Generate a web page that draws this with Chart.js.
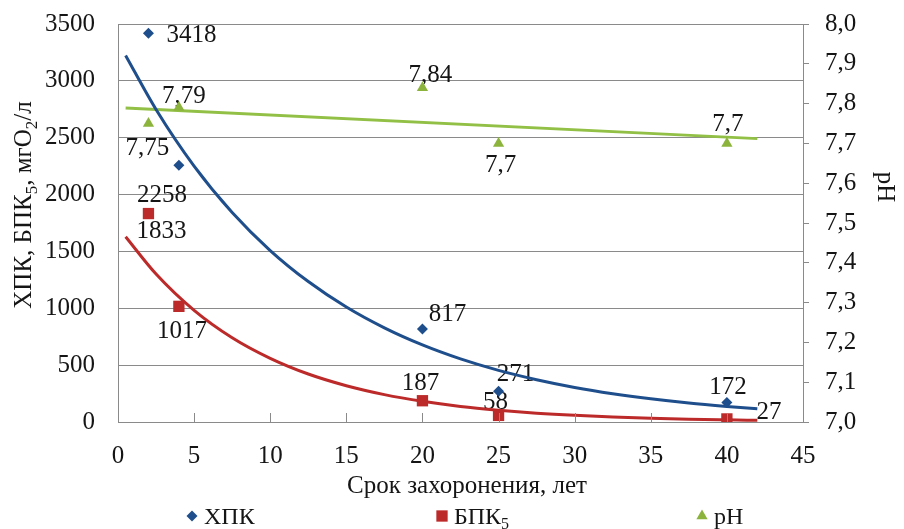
<!DOCTYPE html>
<html>
<head>
<meta charset="utf-8">
<script src="https://cdn.jsdelivr.net/npm/chart.js@4.4.1/dist/chart.umd.min.js"></script>
<style>
  html, body { margin: 0; padding: 0; background: #ffffff; }
  #wrap { width: 904px; height: 529px; }
</style>
</head>
<body>
<div id="wrap"><canvas id="c" width="904" height="529"></canvas></div>
<script>
// Measured values by burial age (years)
const years = [2, 4, 20, 25, 40];
const codValues = [3418, 2258, 817, 271, 172];   // ХПК, мгО2/л
const bodValues = [1833, 1017, 187, 58, 27];     // БПК5, мгО2/л
const phValues = [7.75, 7.79, 7.84, 7.7, 7.7];   // pH

// Trend curves (exponential for ХПК and БПК5, linear for pH)
const trendYears = [0.5, 2.5, 5, 7.5, 10, 12.5, 15, 17.5, 20, 22.5, 25, 27.5, 30, 32.5, 35, 37.5, 40, 42];
const codTrend = [3223, 2748, 2250, 1842, 1508, 1235, 1011, 828, 678, 555, 454, 372, 304, 249, 204, 167, 137, 116];
const bodTrend = [1629, 1301, 982, 741, 560, 422, 319, 241, 182, 137, 104, 78, 59, 45, 34, 25, 19, 15];
const phTrendYears = [0.5, 42];
const phTrend = [7.789, 7.712];

// Axis ranges
const xRange = { min: 0, max: 45, step: 5 };
const leftRange = { min: 0, max: 3500, step: 500 };
const rightRange = { min: 7.0, max: 8.0, step: 0.1 };

// Label placement relative to each marker (px)
const codLabelShift = [[43, 0], [-17, 28], [25, -17], [17, -19], [1, -17]];
const bodLabelShift = [[13, 16], [3, 23], [-2, -19], [-3, -15], [42, -8]];
const phLabelShift = [[-1, 23], [5, -13], [8, -14], [2, 20], [1, -21]];

const BLUE = '#1f4e8c';
const RED = '#bc2a2a';
const GREEN = '#8cb43c';
const GRID = '#8a8a8a';
const INK = '#151515';
const FONT = "'Liberation Serif', 'Times New Roman', serif";
const FS = 25;
const LEGEND_FS = 24;

// Plot box inside the canvas
const PLOT = { left: 118, top: 24, right: 803, bottom: 422 };

const pts = (xs, ys) => xs.map((x, i) => ({ x: x, y: ys[i] }));
const fmt = v => String(v).replace('.', ',');

// Text with optional subscript pieces, drawn centered at (cx, baseline)
function drawRich(ctx, parts, cx, base, size) {
  const subSize = Math.round(size * 0.68);
  let total = 0;
  parts.forEach(p => {
    ctx.font = (p.sub ? subSize : size) + 'px ' + FONT;
    p.w = ctx.measureText(p.t).width;
    total += p.w;
  });
  let x = cx - total / 2;
  ctx.textAlign = 'left';
  ctx.textBaseline = 'alphabetic';
  parts.forEach(p => {
    ctx.font = (p.sub ? subSize : size) + 'px ' + FONT;
    ctx.fillText(p.t, x, base + (p.sub ? size * 0.22 : 0));
    x += p.w;
  });
}

// Value labels sit under the trend lines and markers
const valueLabels = {
  id: 'valueLabels',
  beforeDatasetsDraw(chart) {
    const ctx = chart.ctx;
    const xs = chart.scales.x, ys = chart.scales.y, y1 = chart.scales.y1;
    ctx.save();
    ctx.fillStyle = INK;
    ctx.font = FS + 'px ' + FONT;
    ctx.textAlign = 'center';
    ctx.textBaseline = 'alphabetic';
    const put = (vals, scale, shifts) => {
      vals.forEach((v, i) => {
        const px = xs.getPixelForValue(years[i]) + shifts[i][0];
        const py = scale.getPixelForValue(v) + shifts[i][1];
        ctx.fillText(fmt(v), px, py + FS * 0.34);
      });
    };
    put(codValues, ys, codLabelShift);
    put(bodValues, ys, bodLabelShift);
    put(phValues, y1, phLabelShift);
    ctx.restore();
  }
};

const decorations = {
  id: 'decorations',
  afterDraw(chart) {
    const ctx = chart.ctx;
    const xs = chart.scales.x;
    const area = chart.chartArea;
    ctx.save();

    // inward tick marks on the horizontal axis
    ctx.strokeStyle = GRID;
    ctx.lineWidth = 1;
    for (let v = xRange.min + xRange.step; v < xRange.max; v += xRange.step) {
      const px = Math.round(xs.getPixelForValue(v)) + 0.5;
      ctx.beginPath();
      ctx.moveTo(px, area.bottom);
      ctx.lineTo(px, area.bottom - 9);
      ctx.stroke();
    }

    ctx.fillStyle = INK;
    ctx.font = FS + 'px ' + FONT;

    // horizontal axis title
    ctx.textAlign = 'center';
    ctx.textBaseline = 'alphabetic';
    ctx.fillText('Срок захоронения, лет', 467, 493);

    // left axis title
    ctx.save();
    ctx.translate(31, 205);
    ctx.rotate(-Math.PI / 2);
    drawRich(ctx, [{ t: 'ХПК, БПК' }, { t: '5', sub: true }, { t: ', мгО' }, { t: '2', sub: true }, { t: '/л' }], 0, 0, FS);
    ctx.restore();

    // right axis title
    ctx.save();
    ctx.translate(878, 187);
    ctx.rotate(Math.PI / 2);
    ctx.textAlign = 'center';
    ctx.font = FS + 'px ' + FONT;
    ctx.fillText('pH', 0, 0);
    ctx.restore();

    // legend
    const items = [
      { x: 192, style: 'rectRot', r: 5.5, color: BLUE, parts: [{ t: 'ХПК' }] },
      { x: 442, style: 'rect', r: 8, color: RED, parts: [{ t: 'БПК' }, { t: '5', sub: true }] },
      { x: 702, style: 'triangle', r: 6.5, color: GREEN, parts: [{ t: 'pH' }] }
    ];
    items.forEach(it => {
      ctx.fillStyle = it.color;
      ctx.strokeStyle = it.color;
      Chart.helpers.drawPoint(ctx, { pointStyle: it.style, radius: it.r, rotation: 0, borderWidth: 0 }, it.x, 516);
      ctx.fillStyle = INK;
      let w = 0;
      it.parts.forEach(p => {
        ctx.font = (p.sub ? Math.round(LEGEND_FS * 0.68) : LEGEND_FS) + 'px ' + FONT;
        w += ctx.measureText(p.t).width;
      });
      drawRich(ctx, it.parts, it.x + 12 + w / 2, 524, LEGEND_FS);
    });

    ctx.restore();
  }
};

const whiteBg = {
  id: 'whiteBg',
  beforeDraw(chart) {
    const ctx = chart.ctx;
    ctx.save();
    ctx.fillStyle = '#ffffff';
    ctx.fillRect(0, 0, chart.width, chart.height);
    ctx.restore();
  }
};

// Pin the plot box to fixed canvas coordinates after Chart.js lays out its boxes
const pinArea = {
  id: 'pinArea',
  afterLayout(chart) {
    const a = chart.chartArea;
    Object.assign(a, PLOT, { width: PLOT.right - PLOT.left, height: PLOT.bottom - PLOT.top });
    const xs = chart.scales.x, ys = chart.scales.y, y1 = chart.scales.y1;
    xs.left = PLOT.left; xs.right = PLOT.right; xs.width = PLOT.right - PLOT.left;
    xs.top = PLOT.bottom; xs.bottom = chart.height; xs.height = chart.height - PLOT.bottom;
    ys.left = 0; ys.right = PLOT.left; ys.width = PLOT.left;
    ys.top = PLOT.top; ys.bottom = PLOT.bottom; ys.height = PLOT.bottom - PLOT.top;
    y1.left = PLOT.right; y1.right = chart.width; y1.width = chart.width - PLOT.right;
    y1.top = PLOT.top; y1.bottom = PLOT.bottom; y1.height = PLOT.bottom - PLOT.top;
    [xs, ys, y1].forEach(s => s.configure());
  }
};

new Chart(document.getElementById('c'), {
  type: 'scatter',
  data: {
    datasets: [
      { label: 'ХПК', data: pts(years, codValues), yAxisID: 'y', order: 0,
        pointStyle: 'rectRot', pointRadius: 5.5, backgroundColor: BLUE, borderColor: BLUE, borderWidth: 0 },
      { label: 'БПК5', data: pts(years, bodValues), yAxisID: 'y', order: 0,
        pointStyle: 'rect', pointRadius: 8, backgroundColor: RED, borderColor: RED, borderWidth: 0 },
      { label: 'pH', data: pts(years, phValues), yAxisID: 'y1', order: 0,
        pointStyle: 'triangle', pointRadius: 6.5, backgroundColor: GREEN, borderColor: GREEN, borderWidth: 0 },
      { label: 'ХПК тренд', data: pts(trendYears, codTrend), yAxisID: 'y', order: 1, showLine: true,
        pointRadius: 0, borderColor: BLUE, borderWidth: 3, cubicInterpolationMode: 'monotone' },
      { label: 'БПК5 тренд', data: pts(trendYears, bodTrend), yAxisID: 'y', order: 1, showLine: true,
        pointRadius: 0, borderColor: RED, borderWidth: 3, cubicInterpolationMode: 'monotone' },
      { label: 'pH тренд', data: pts(phTrendYears, phTrend), yAxisID: 'y1', order: 1, showLine: true,
        pointRadius: 0, borderColor: '#92c046', borderWidth: 3 }
    ]
  },
  options: {
    responsive: false,
    animation: false,
    layout: { padding: { left: 0, right: 0, top: 24, bottom: 0 } },
    plugins: { legend: { display: false }, tooltip: { enabled: false } },
    scales: {
      x: {
        type: 'linear', min: xRange.min, max: xRange.max,
        grid: { display: false, drawTicks: false },
        border: { display: true, color: GRID, width: 1 },
        ticks: { stepSize: xRange.step, padding: 19, color: INK, font: { family: FONT, size: FS } }
      },
      y: {
        position: 'left', min: leftRange.min, max: leftRange.max,
        grid: { color: GRID, lineWidth: 1, drawTicks: false },
        border: { display: true, color: GRID, width: 1 },
        ticks: { stepSize: leftRange.step, padding: 23, color: INK, font: { family: FONT, size: FS },
                 callback: v => String(v) }
      },
      y1: {
        position: 'right', min: rightRange.min, max: rightRange.max,
        grid: { drawOnChartArea: false, drawTicks: true, tickLength: 6, color: GRID, lineWidth: 1 },
        border: { display: true, color: GRID, width: 1 },
        ticks: { stepSize: rightRange.step, padding: 16, color: INK, font: { family: FONT, size: FS },
                 callback: v => v.toFixed(1).replace('.', ',') }
      }
    }
  },
  plugins: [whiteBg, pinArea, valueLabels, decorations]
});
</script>
</body>
</html>
